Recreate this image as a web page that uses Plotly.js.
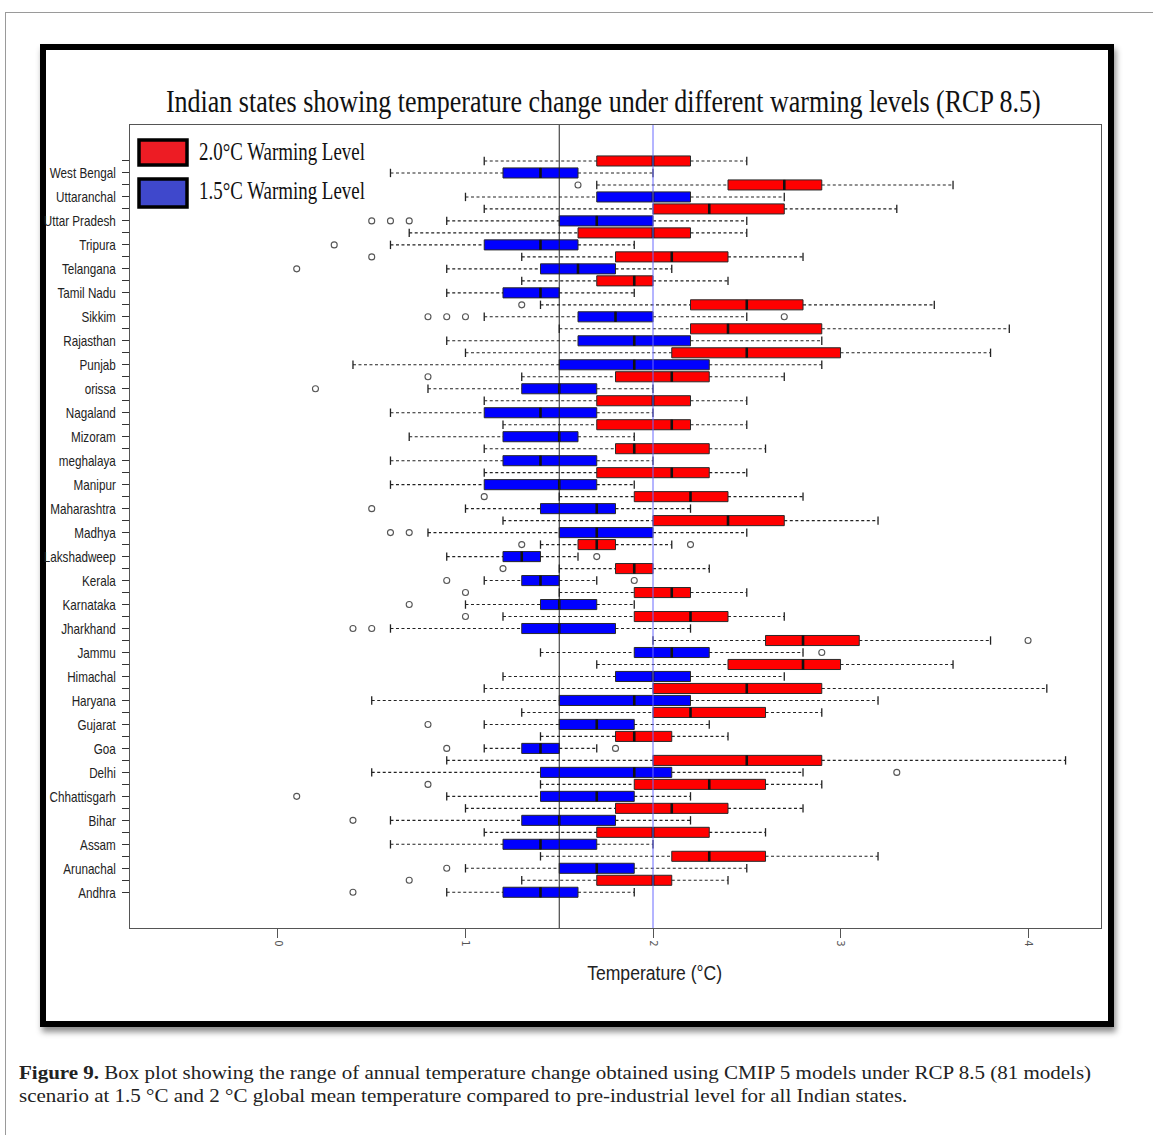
<!DOCTYPE html>
<html>
<head>
<meta charset="utf-8">
<script src="https://cdn.plot.ly/plotly-3.0.1.min.js"></script>
<style>
  html, body { margin:0; padding:0; background:#ffffff; width:1153px; height:1135px; overflow:hidden; }
  #pageborder { position:absolute; left:5px; top:12px; width:1300px; height:1300px; border-left:1.5px solid #9a9a9a; border-top:1.5px solid #9a9a9a; }
  #frame { position:absolute; left:40px; top:44px; width:1062px; height:971px; border:6px solid #000; box-shadow:2px 5px 6px rgba(0,0,0,0.45); background:#fff; }
  #chart { position:absolute; left:0; top:0; width:1153px; height:1135px; z-index:2; }
</style>
</head>
<body>
<div id="pageborder"></div>
<div id="frame"></div>
<div id="chart"></div>
<script>
// ---- data (top to bottom as printed) ----
const states = ["West Bengal","Uttaranchal","Uttar Pradesh","Tripura","Telangana","Tamil Nadu","Sikkim","Rajasthan","Punjab","orissa","Nagaland","Mizoram","meghalaya","Manipur","Maharashtra","Madhya","Lakshadweep","Kerala","Karnataka","Jharkhand","Jammu","Himachal","Haryana","Gujarat","Goa","Delhi","Chhattisgarh","Bihar","Assam","Arunachal","Andhra"];

// 2.0 °C warming level (red)
const red_lo  = [1.1,1.7,1.1,0.7,1.3,1.3,1.4,1.5,1.0,1.3,1.1,1.2,1.1,1.1,1.5,1.2,1.4,1.5,1.5,1.2,2.0,1.7,1.1,1.3,1.4,0.9,1.4,1.0,1.1,1.4,1.3];
const red_q1  = [1.7,2.4,2.0,1.6,1.8,1.7,2.2,2.2,2.1,1.8,1.7,1.7,1.8,1.7,1.9,2.0,1.6,1.8,1.9,1.9,2.6,2.4,2.0,2.0,1.8,2.0,1.9,1.8,1.7,2.1,1.7];
const red_med = [2.0,2.7,2.3,2.0,2.1,1.9,2.5,2.4,2.5,2.1,2.0,2.1,1.9,2.1,2.2,2.4,1.7,1.9,2.1,2.2,2.8,2.8,2.5,2.2,1.9,2.5,2.3,2.1,2.0,2.3,2.0];
const red_q3  = [2.2,2.9,2.7,2.2,2.4,2.0,2.8,2.9,3.0,2.3,2.2,2.2,2.3,2.3,2.4,2.7,1.8,2.0,2.2,2.4,3.1,3.0,2.9,2.6,2.1,2.9,2.6,2.4,2.3,2.6,2.1];
const red_hi  = [2.5,3.6,3.3,2.5,2.8,2.4,3.5,3.9,3.8,2.7,2.5,2.5,2.6,2.5,2.8,3.2,2.1,2.3,2.5,2.7,3.8,3.6,4.1,2.9,2.4,4.2,2.9,2.8,2.6,3.2,2.4];
const red_out = [[],[1.6],[],[],[0.5],[],[1.3],[],[],[0.8],[],[],[],[],[1.1],[],[1.3,2.2],[1.2],[1.0],[1.0],[4.0],[],[],[],[],[],[0.8],[],[],[],[0.7]];

// 1.5 °C warming level (blue)
const blue_lo  = [0.6,1.0,0.9,0.6,0.9,0.9,1.1,0.9,0.4,0.8,0.6,0.7,0.6,0.6,1.0,0.8,0.9,1.1,1.0,0.6,1.4,1.2,0.5,1.1,1.1,0.5,0.9,0.6,0.6,1.0,0.9];
const blue_q1  = [1.2,1.7,1.5,1.1,1.4,1.2,1.6,1.6,1.5,1.3,1.1,1.2,1.2,1.1,1.4,1.5,1.2,1.3,1.4,1.3,1.9,1.8,1.5,1.5,1.3,1.4,1.4,1.3,1.2,1.5,1.2];
const blue_med = [1.4,2.0,1.7,1.4,1.6,1.4,1.8,1.9,1.9,1.5,1.4,1.5,1.4,1.5,1.7,1.7,1.3,1.4,1.5,1.5,2.1,2.0,1.9,1.7,1.4,1.9,1.7,1.5,1.4,1.7,1.4];
const blue_q3  = [1.6,2.2,2.0,1.6,1.8,1.5,2.0,2.2,2.3,1.7,1.7,1.6,1.7,1.7,1.8,2.0,1.4,1.5,1.7,1.8,2.3,2.2,2.2,1.9,1.5,2.1,1.9,1.8,1.7,1.9,1.6];
const blue_hi  = [2.0,2.7,2.5,1.9,2.1,1.9,2.5,2.9,2.9,2.0,2.0,1.9,2.0,1.9,2.2,2.5,1.6,1.7,1.9,2.2,2.8,2.7,3.2,2.3,1.7,2.8,2.2,2.2,2.0,2.5,1.9];
const blue_out = [[],[],[0.5,0.6,0.7],[0.3],[0.1],[],[0.8,0.9,1.0,2.7],[],[],[0.2],[],[],[],[],[0.5],[0.6,0.7],[1.7],[0.9,1.9],[0.7],[0.4,0.5],[2.9],[],[],[0.8],[0.9,1.8],[3.3],[0.1],[0.4],[],[0.9],[0.4]];

const xTicks = [0,1,2,3,4];
const refLines = [1.5, 2.0];

// ---- geometry helpers (pixels -> paper) ----
const L = 130, R = 1101, T = 125, B = 928;
const xp = px => (px - L) / (R - L);
const yp = py => (B - py) / (B - T);

const n = states.length;
const bluePos = states.map((s, i) => 2 * (n - 1 - i) + 1);
const redPos  = bluePos.map(p => p + 1);
const BW = 0.84;

function boxTrace(pos, q1, med, q3, fill) {
  return { type:'box', orientation:'h', y:pos, q1:q1, median:med, q3:q3,
    lowerfence:q1, upperfence:q3, width:BW, whiskerwidth:0, boxpoints:false,
    fillcolor:fill, line:{color:'#2a2a2a', width:1}, hoverinfo:'skip', showlegend:false };
}
function whiskerTrace(pos, lo, q1, q3, hi) {
  const x = [], y = [];
  pos.forEach((p, i) => { x.push(lo[i], q1[i], null, q3[i], hi[i], null); y.push(p, p, null, p, p, null); });
  return { type:'scatter', mode:'lines', x:x, y:y, line:{color:'#222', width:1.1, dash:'3px,2.5px'}, hoverinfo:'skip', showlegend:false };
}
function capTrace(pos, lo, hi) {
  const x = [], y = [];
  pos.forEach((p, i) => { x.push(lo[i], hi[i]); y.push(p, p); });
  return { type:'scatter', mode:'markers', x:x, y:y, marker:{symbol:'line-ns', size:6, line:{color:'#222', width:1.3}}, hoverinfo:'skip', showlegend:false };
}
function medianTrace(pos, med) {
  const x = [], y = [];
  pos.forEach((p, i) => { x.push(med[i], med[i], null); y.push(p - BW/2, p + BW/2, null); });
  return { type:'scatter', mode:'lines', x:x, y:y, line:{color:'#111', width:2.6}, hoverinfo:'skip', showlegend:false };
}
function outTrace(pos, outs) {
  const x = [], y = [];
  pos.forEach((p, i) => outs[i].forEach(v => { x.push(v); y.push(p); }));
  return { type:'scatter', mode:'markers', x:x, y:y, marker:{symbol:'circle-open', size:6, color:'#555', line:{width:1.1, color:'#555'}}, hoverinfo:'skip', showlegend:false };
}

const data = [
  whiskerTrace(redPos, red_lo, red_q1, red_q3, red_hi),
  whiskerTrace(bluePos, blue_lo, blue_q1, blue_q3, blue_hi),
  capTrace(redPos, red_lo, red_hi),
  capTrace(bluePos, blue_lo, blue_hi),
  boxTrace(redPos, red_q1, red_med, red_q3, '#ff0000'),
  boxTrace(bluePos, blue_q1, blue_med, blue_q3, '#0000ff'),
  medianTrace(redPos, red_med),
  medianTrace(bluePos, blue_med),
  outTrace(redPos, red_out),
  outTrace(bluePos, blue_out)
];

const tickvals = [], ticktext = [];
for (let p = 1; p <= 2 * n; p++) {
  tickvals.push(p);
  if (p % 2 === 1) ticktext.push(states[n - 1 - (p - 1) / 2]); else ticktext.push('');
}

const shapes = refLines.map((v, i) => ({ type:'line', xref:'x', yref:'paper', x0:v, x1:v, y0:0, y1:1,
  line:{color: i === 0 ? '#222' : '#6b6bff', width:1}, layer:'above' }));
// legend swatches
shapes.push({ type:'rect', xref:'paper', yref:'paper', x0:xp(139), x1:xp(187), y0:yp(165), y1:yp(140), fillcolor:'#ed1c24', line:{color:'#000', width:3.5} });
shapes.push({ type:'rect', xref:'paper', yref:'paper', x0:xp(139), x1:xp(187), y0:yp(207), y1:yp(179), fillcolor:'#3f48cc', line:{color:'#000', width:3.5} });

const serif = 'Liberation Serif, Times New Roman, serif';
const sans = 'Liberation Sans, Arial, sans-serif';
const annotations = [
  { text:'Indian states showing temperature change under different warming levels (RCP 8.5)', xref:'paper', yref:'paper',
    x:xp(603), y:yp(101), xanchor:'center', yanchor:'middle', showarrow:false, font:{family:serif, size:31, color:'#111'} },
  { text:'2.0°C Warming Level', xref:'paper', yref:'paper', x:xp(197), y:yp(151), xanchor:'left', yanchor:'middle', showarrow:false, font:{family:serif, size:25, color:'#111'} },
  { text:'1.5°C Warming Level', xref:'paper', yref:'paper', x:xp(197), y:yp(190), xanchor:'left', yanchor:'middle', showarrow:false, font:{family:serif, size:25, color:'#111'} },
  { text:'Temperature (°C)', xref:'paper', yref:'paper', x:xp(654), y:yp(972), xanchor:'center', yanchor:'middle', showarrow:false, font:{family:sans, size:21, color:'#222'} },
  { text:'<b>Figure 9.</b> Box plot showing the range of annual temperature change obtained using CMIP 5 models under RCP 8.5 (81 models)<br>scenario at 1.5 °C and 2 °C global mean temperature compared to pre-industrial level for all Indian states.',
    xref:'paper', yref:'paper', x:xp(17), y:yp(1084), xanchor:'left', yanchor:'middle', align:'left', showarrow:false, font:{family:serif, size:18, color:'#222'} }
];
// target rendered widths (px) and anchor mode for each annotation above
const annFit = [[875,'c'],[166,'l'],[166,'l'],[135,'c'],[1073,'l']];

const layout = {
  width:1153, height:1135,
  margin:{l:L, r:1153 - R, t:T, b:1135 - B, pad:0},
  paper_bgcolor:'rgba(0,0,0,0)', plot_bgcolor:'rgba(0,0,0,0)',
  showlegend:false, hovermode:false, boxmode:'overlay',
  xaxis:{ range:[-0.789, 4.389], tickvals:xTicks, ticktext:xTicks.map(String), tickangle:90,
    ticks:'outside', ticklen:9, tickcolor:'#555', tickfont:{family:'DejaVu Sans, sans-serif', size:10, color:'#555'},
    showgrid:false, zeroline:false, showline:true, mirror:true, linecolor:'#555', linewidth:1.2 },
  yaxis:{ range:[-1.98, 65.0], tickvals:tickvals, ticktext:ticktext, ticks:'outside', ticklen:7, tickcolor:'#333',
    tickfont:{family:sans, size:15, color:'#222'}, ticklabelstandoff:3,
    showgrid:false, zeroline:false, showline:true, mirror:true, linecolor:'#555', linewidth:1.2 },
  shapes:shapes, annotations:annotations
};

function squeeze(el, sx, ax) {
  const tr = el.getAttribute('transform') || '';
  el.setAttribute('transform', (tr + ' translate(' + ax + ',0) scale(' + sx + ',1) translate(' + (-ax) + ',0)').trim());
}

Plotly.newPlot('chart', data, layout, {displayModeBar:false, staticPlot:true}).then(() => {
  // condensed look of the y labels: scale so that "West Bengal" is ~66 px wide
  const yl = Array.from(document.querySelectorAll('.ytick text'));
  const wb = yl.find(t => t.textContent === 'West Bengal');
  const s = wb ? 66 / wb.getBBox().width : 0.78;
  yl.forEach(t => { if (t.textContent) squeeze(t, s, parseFloat(t.getAttribute('x')) || 0); });
  // annotations
  const at = Array.from(document.querySelectorAll('.annotation-text'));
  at.forEach((t, i) => {
    if (!annFit[i]) return;
    const bb = t.getBBox();
    const sx = annFit[i][0] / bb.width;
    const ax = annFit[i][1] === 'c' ? bb.x + bb.width / 2 : bb.x;
    squeeze(t, sx, ax);
  });
});
</script>
</body>
</html>
